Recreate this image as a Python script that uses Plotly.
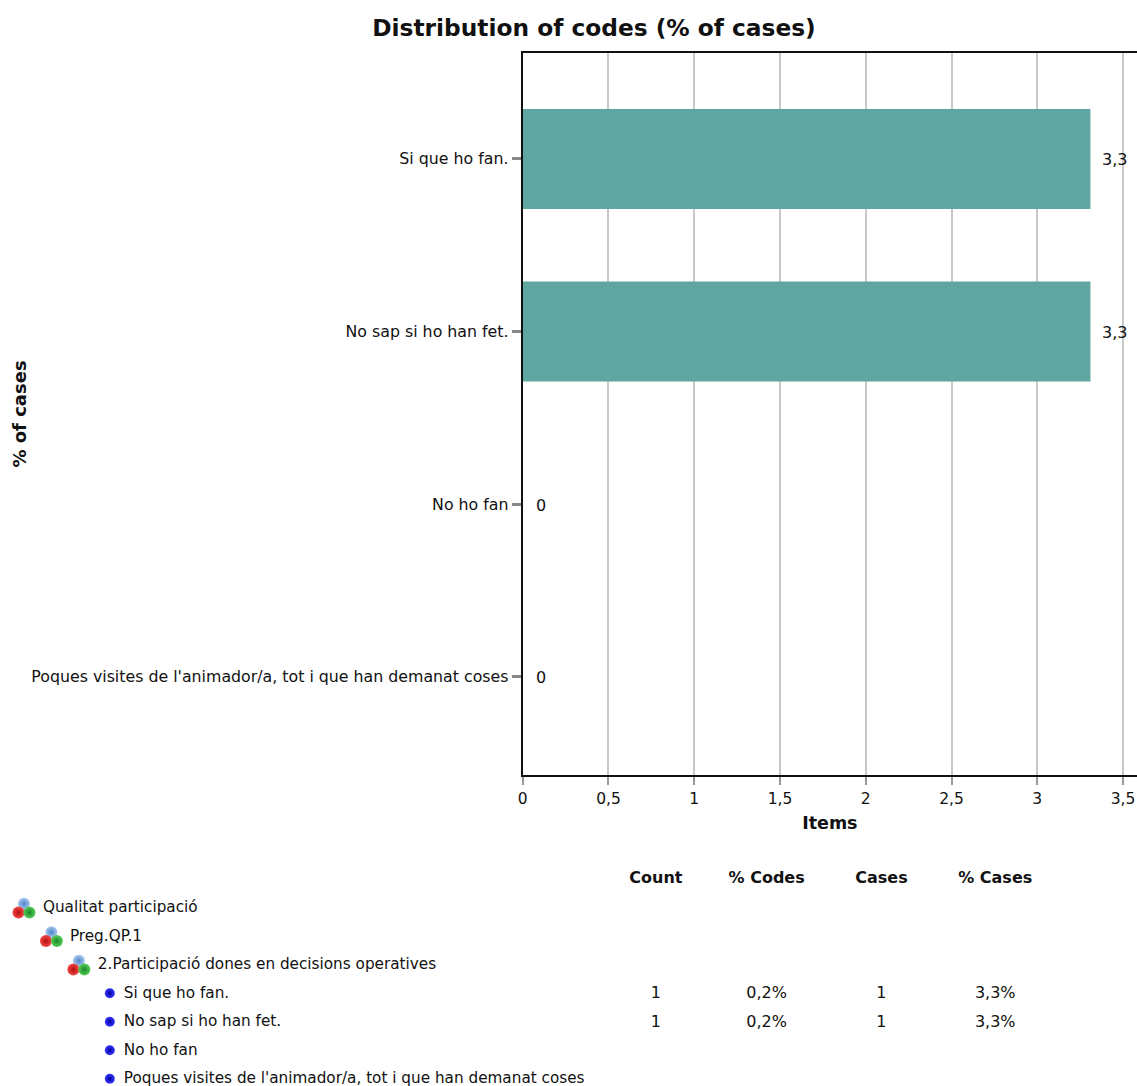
import plotly.graph_objects as go

W, H = 1137, 1086
TITLE = "Distribution of codes (% of cases)"
categories = ["Si que ho fan.", "No sap si ho han fet.", "No ho fan",
              "Poques visites de l'animador/a, tot i que han demanat coses"]
pct_cases = [3.31, 3.31, 0, 0]
pct_labels = ["3,3", "3,3", "0", "0"]

headers = ["Count", "% Codes", "Cases", "% Cases"]
tree_labels = ["Qualitat participació", "Preg.QP.1", "2.Participació dones en decisions operatives",
               "Si que ho fan.", "No sap si ho han fet.", "No ho fan",
               "Poques visites de l'animador/a, tot i que han demanat coses"]
tree_levels = [0, 1, 2, 3, 3, 3, 3]
count_col = ["", "", "", "1", "1", "", ""]
codes_col = ["", "", "", "0,2%", "0,2%", "", ""]
cases_col = ["", "", "", "1", "1", "", ""]
pcases_col = ["", "", "", "3,3%", "3,3%", "", ""]

FONT = "DejaVu Sans"
BAR = "#5FA6A1"
GRID = "#C8C8C8"
INK = "#111111"

fig = go.Figure()
fig.add_trace(go.Bar(x=pct_cases, y=categories, orientation="h", width=0.58,
                     marker=dict(color=BAR, line_width=0), showlegend=False))

# table, drawn on a hidden axis pair that spans the page
rows = list(range(len(tree_labels)))
text_x = [41, 68, 96, 122]
icon_x = [22, 49.5, 77]
col_x = [655, 766, 881, 995]
for cx, head, col in zip(col_x, headers, [count_col, codes_col, cases_col, pcases_col]):
    fig.add_trace(go.Scatter(x=[cx] * (len(rows) + 1), y=[-1.04] + rows, mode="text",
                             text=[f"<b>{head}</b>"] + col, textposition="middle center",
                             textfont=dict(family=FONT, size=16, color=INK),
                             xaxis="x2", yaxis="y2", showlegend=False, cliponaxis=False))
fig.add_trace(go.Scatter(x=[text_x[l] for l in tree_levels], y=rows, mode="text", text=tree_labels,
                         textposition="middle right", textfont=dict(family=FONT, size=15.25, color=INK),
                         xaxis="x2", yaxis="y2", showlegend=False, cliponaxis=False))
groups = [(r, l) for r, l in zip(rows, tree_levels) if l < 3]
for dx, dy, col, light in [(0, -0.17, "#4F86CC", "#A9C8EE"), (-5.5, 0.14, "#B80C0C", "#F04848"), (5.5, 0.14, "#178A28", "#58CC58")]:
    fig.add_trace(go.Scatter(x=[icon_x[l] + dx for r, l in groups], y=[r + dy for r, l in groups], mode="markers",
                             marker=dict(size=12, color=light, gradient=dict(type="radial", color=col), line_width=0),
                             xaxis="x2", yaxis="y2", showlegend=False, hoverinfo="skip"))
leaf_rows = [r for r, l in zip(rows, tree_levels) if l == 3]
fig.add_trace(go.Scatter(x=[108] * len(leaf_rows), y=[r - 0.03 for r in leaf_rows], mode="markers",
                         marker=dict(size=10, color="#3838FF", gradient=dict(type="radial", color="#0000A0"), line_width=0),
                         xaxis="x2", yaxis="y2", showlegend=False, hoverinfo="skip"))

annotations = [dict(x=v, y=c, xref="x", yref="y", text=t, showarrow=False, xanchor="left",
                    xshift=(11 if v == 0 else 10), yshift=-1,
                    font=dict(family=FONT, size=16, color=INK))
               for v, c, t in zip(pct_cases, categories, pct_labels)]

fig.update_layout(
    width=W, height=H, margin=dict(l=0, r=0, t=0, b=0), autosize=False,
    paper_bgcolor="white", plot_bgcolor="rgba(0,0,0,0)", separators=", ",
    font=dict(family=FONT, size=15, color=INK),
    title=dict(text=f"<b>{TITLE}</b>", x=594 / W, xanchor="center", y=1 - 28 / H, yanchor="middle",
               font=dict(family=FONT, size=23.3, color=INK)),
    annotations=annotations,
    xaxis=dict(domain=[520 / W, 1], range=[0, 616 / 172], dtick=0.5, tick0=0, showgrid=True, gridcolor=GRID, gridwidth=2,
               zeroline=False, showline=True, linecolor=INK, linewidth=2, mirror=True,
               ticks="outside", ticklen=8, tickwidth=2, tickcolor="#999999",
               tickfont=dict(family=FONT, size=15.5, color=INK),
               title=dict(text="<b>Items</b>", standoff=10, font=dict(family=FONT, size=17.5, color=INK)),
               anchor="y"),
    yaxis=dict(domain=[1 - 775 / H, 1 - 53 / H], type="category", categoryorder="array", categoryarray=categories,
               range=[3.57, -0.614], showgrid=False, zeroline=False, showline=True, linecolor=INK, linewidth=2,
               ticks="outside", ticklen=9, tickwidth=3, tickcolor="#888888",
               tickfont=dict(family=FONT, size=15.8, color=INK),
               title=dict(text="<b>% of cases</b>", standoff=0, font=dict(family=FONT, size=18, color=INK)),
               anchor="x"),
    xaxis2=dict(domain=[0, 1], range=[3, W], visible=False, anchor="y2"),
    yaxis2=dict(domain=[0, 1], range=[6.225, -31.875], visible=False, anchor="x2"),
)
fig.write_html("out.html", post_script="document.body.style.margin='0';document.body.style.overflow='hidden';",
               config={"displayModeBar": False})
